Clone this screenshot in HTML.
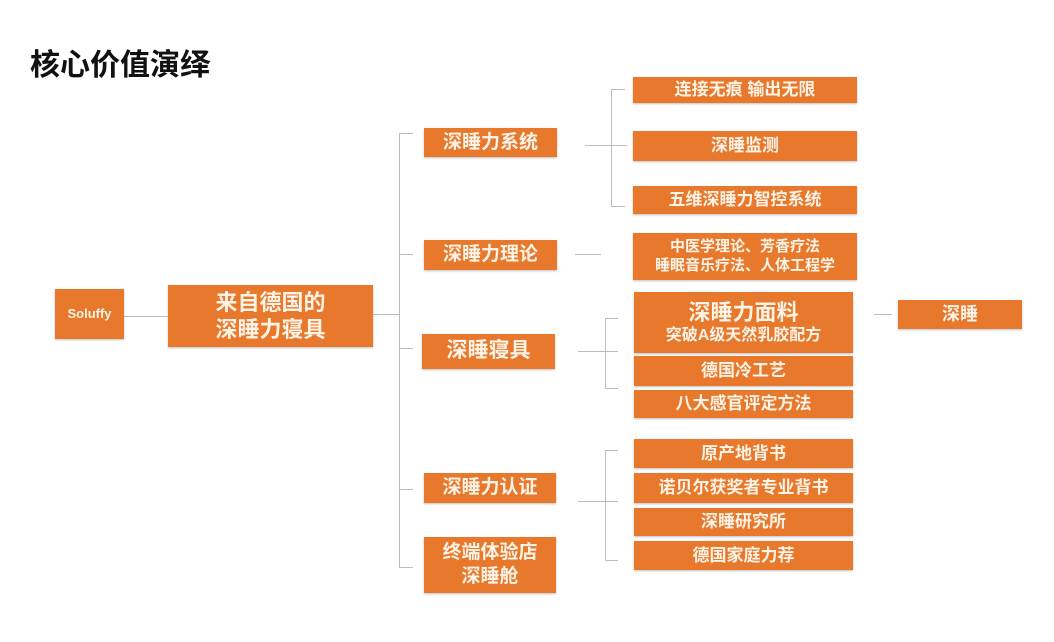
<!DOCTYPE html>
<html><head><meta charset="utf-8"><style>
body{margin:0;width:1054px;height:642px;background:#fff;position:relative;overflow:hidden;font-family:"Liberation Sans","Noto Sans CJK SC",sans-serif}
.b{position:absolute;background:#e8782b;color:#fdf3e6;display:flex;align-items:center;justify-content:center;text-align:center;font-weight:bold;box-shadow:0 1px 2px rgba(0,0,0,.25);line-height:1.25}
.l{position:absolute;background:#b8bcc4}
.h{height:1px}.v{width:1px}
</style></head><body>
<div style="position:absolute;left:30px;top:40px;font-size:30px;font-weight:bold;color:#111">核心价值演绎</div>

<div class="b" style="left:55px;top:289px;width:69px;height:50px;font-size:13px">Soluffy</div>
<div class="b" style="left:168px;top:285px;width:205px;height:62px;font-size:22px">来自德国的<br>深睡力寝具</div>

<div class="b" style="left:424px;top:128px;width:133px;height:29px;font-size:19px">深睡力系统</div>
<div class="b" style="left:424px;top:240px;width:133px;height:30px;font-size:19px">深睡力理论</div>
<div class="b" style="left:422px;top:334px;width:133px;height:35px;font-size:21px">深睡寝具</div>
<div class="b" style="left:424px;top:473px;width:132px;height:30px;font-size:19px">深睡力认证</div>
<div class="b" style="left:424px;top:537px;width:132px;height:56px;font-size:19px">终端体验店<br>深睡舱</div>

<div class="b" style="left:633px;top:77px;width:224px;height:26px;font-size:17px">连接无痕 输出无限</div>
<div class="b" style="left:633px;top:131px;width:224px;height:30px;font-size:17px">深睡监测</div>
<div class="b" style="left:633px;top:186px;width:224px;height:28px;font-size:17px">五维深睡力智控系统</div>
<div class="b" style="left:633px;top:233px;width:224px;height:47px;font-size:15px">中医学理论、芳香疗法<br>睡眠音乐疗法、人体工程学</div>
<div class="b" style="left:634px;top:292px;width:219px;height:61px;font-size:16px;flex-direction:column"><span style="font-size:22px">深睡力面料</span>突破A级天然乳胶配方</div>
<div class="b" style="left:634px;top:356px;width:219px;height:30px;font-size:17px">德国冷工艺</div>
<div class="b" style="left:634px;top:390px;width:219px;height:28px;font-size:17px">八大感官评定方法</div>
<div class="b" style="left:634px;top:439px;width:219px;height:29px;font-size:17px">原产地背书</div>
<div class="b" style="left:634px;top:473px;width:219px;height:30px;font-size:17px">诺贝尔获奖者专业背书</div>
<div class="b" style="left:634px;top:508px;width:219px;height:28px;font-size:17px">深睡研究所</div>
<div class="b" style="left:634px;top:541px;width:219px;height:29px;font-size:17px">德国家庭力荐</div>

<div class="b" style="left:898px;top:300px;width:124px;height:29px;font-size:18px">深睡</div>

<!-- connectors -->
<div class="l h" style="left:124px;top:316px;width:44px"></div>
<div class="l h" style="left:373px;top:314px;width:26px"></div>
<div class="l v" style="left:399px;top:133px;height:434px"></div>
<div class="l h" style="left:399px;top:133px;width:14px"></div>
<div class="l h" style="left:399px;top:254px;width:14px"></div>
<div class="l h" style="left:399px;top:348px;width:14px"></div>
<div class="l h" style="left:399px;top:489px;width:14px"></div>
<div class="l h" style="left:399px;top:567px;width:14px"></div>

<div class="l h" style="left:585px;top:145px;width:42px"></div>
<div class="l v" style="left:611px;top:89px;height:117px"></div>
<div class="l h" style="left:611px;top:89px;width:14px"></div>
<div class="l h" style="left:611px;top:206px;width:14px"></div>

<div class="l h" style="left:575px;top:254px;width:26px"></div>

<div class="l h" style="left:578px;top:351px;width:40px"></div>
<div class="l v" style="left:605px;top:318px;height:70px"></div>
<div class="l h" style="left:605px;top:318px;width:13px"></div>
<div class="l h" style="left:605px;top:388px;width:13px"></div>

<div class="l h" style="left:578px;top:501px;width:40px"></div>
<div class="l v" style="left:605px;top:450px;height:110px"></div>
<div class="l h" style="left:605px;top:450px;width:13px"></div>
<div class="l h" style="left:605px;top:560px;width:13px"></div>

<div class="l h" style="left:874px;top:314px;width:18px"></div>
</body></html>
